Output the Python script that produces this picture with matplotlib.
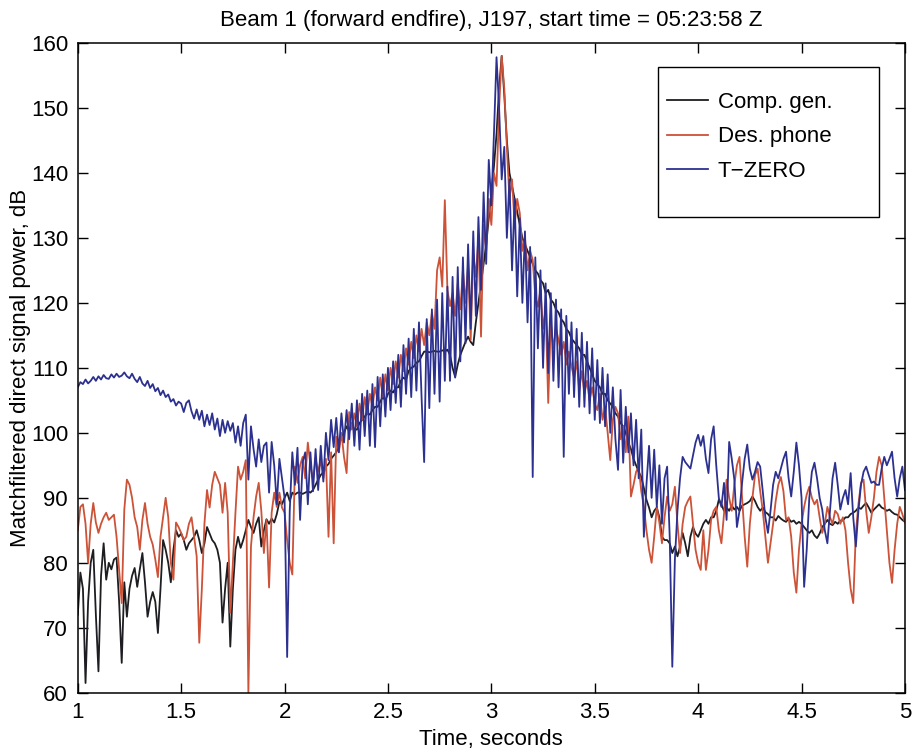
import numpy as np
import matplotlib
matplotlib.use("Agg")
import matplotlib.pyplot as plt
from matplotlib.patches import Rectangle
from matplotlib.ticker import FormatStrFormatter

# samples every 12.5 ms from 1 s to 5 s, one row per quarter second
dt = 0.0125
t0 = 1.0

comp_gen = [
    72.0, 78.5, 76.0, 61.5, 74.0, 80.0, 82.0, 72.0, 63.3, 78.0, 83.0, 77.4, 80.0, 79.0, 80.5, 80.8, 74.0, 64.6, 77.0, 71.7,
    76.0, 78.0, 79.2, 76.3, 79.0, 81.5, 77.0, 71.7, 74.0, 75.5, 74.0, 69.2, 76.0, 83.5, 82.0, 80.0, 77.0, 82.0, 85.0, 84.0,
    84.5, 83.5, 82.0, 83.0, 83.5, 84.0, 85.0, 83.5, 81.5, 83.0, 85.5, 84.5, 83.5, 83.0, 82.0, 80.0, 70.8, 76.0, 80.0, 67.1,
    76.0, 82.0, 84.0, 82.3, 83.5, 85.0, 86.6, 85.5, 84.6, 86.0, 87.0, 82.5, 85.0, 86.7, 86.0, 86.8, 86.2, 87.5, 89.4, 89.0,
    90.0, 90.8, 89.5, 90.8, 90.5, 90.8, 90.8, 90.6, 90.8, 91.0, 90.8, 91.2, 92.0, 92.8, 93.5, 94.0, 94.8, 95.2, 96.0, 96.5,
    97.0, 98.0, 99.5, 100.0, 101.0, 100.2, 101.5, 100.5, 100.5, 101.5, 102.0, 102.5, 103.0, 102.8, 103.5, 104.0, 104.0, 104.8, 105.5, 105.0,
    106.0, 106.5, 106.2, 107.0, 107.0, 108.0, 108.5, 108.2, 109.5, 110.0, 110.2, 110.8, 111.0, 111.8, 112.5, 112.5, 112.4, 112.5, 112.6, 112.5,
    112.5, 112.7, 112.5, 112.8, 112.0, 110.0, 108.6, 110.5, 112.0, 113.0, 114.0, 114.8, 114.0, 113.5, 117.0, 120.0, 123.0, 126.0, 129.0, 133.0,
    137.0, 141.0, 146.0, 153.0, 158.0, 152.0, 145.0, 140.0, 138.0, 136.0, 134.0, 132.0, 130.0, 129.0, 128.0, 127.0, 126.0, 125.0, 124.5, 123.5,
    123.0, 121.5, 122.0, 120.5, 120.0, 119.0, 118.5, 117.5, 117.0, 116.0, 115.5, 114.5, 114.0, 113.5, 113.0, 112.0, 112.0, 111.0, 110.0, 109.0,
    108.0, 107.5, 107.0, 106.0, 106.0, 105.0, 104.5, 104.0, 103.0, 102.5, 101.5, 101.0, 100.0, 98.5, 97.5, 96.0, 95.0, 94.0, 93.2, 91.5,
    89.7, 88.5, 87.0, 88.0, 88.5, 87.0, 84.0, 83.5, 83.5, 83.0, 81.5, 82.5, 81.0, 82.5, 84.6, 83.0, 81.0, 84.0, 85.5, 84.5,
    84.0, 85.0, 86.0, 86.6, 86.0, 87.0, 87.0, 88.0, 89.7, 89.0, 88.0, 88.5, 88.0, 88.8, 88.2, 88.6, 88.0, 88.8, 89.0, 89.2,
    89.5, 90.2, 89.5, 88.6, 88.0, 88.5, 87.8, 87.5, 87.0, 87.0, 86.5, 87.2, 86.8, 86.5, 86.3, 86.8, 86.3, 86.5, 86.0, 86.3,
    86.0, 85.5, 85.0, 84.6, 85.0, 84.2, 83.8, 84.5, 85.5, 86.0, 86.6, 86.0, 85.8, 86.3, 86.0, 86.5, 86.5, 87.0, 87.0, 87.5,
    87.7, 88.0, 88.5, 88.3, 88.8, 89.2, 88.5, 87.7, 88.2, 88.6, 89.0, 88.5, 88.3, 88.0, 88.2, 87.8, 87.5, 87.4, 87.0, 86.6,
    86.3,
]

des_phone = [
    85.0, 88.6, 89.0, 86.0, 80.0, 86.0, 89.2, 86.2, 84.6, 86.0, 87.0, 87.7, 86.6, 87.0, 87.4, 84.0, 79.0, 73.8, 88.2, 92.8,
    92.0, 90.0, 87.0, 85.5, 82.0, 86.6, 89.2, 86.0, 84.0, 82.8, 80.5, 77.8, 84.0, 87.0, 90.0, 87.0, 80.0, 77.4, 86.2, 85.5,
    84.6, 83.5, 84.0, 86.0, 87.0, 84.0, 81.0, 67.7, 76.0, 86.0, 91.2, 88.5, 92.0, 94.0, 93.0, 92.0, 87.7, 92.3, 87.7, 72.3,
    80.0, 87.7, 94.8, 92.8, 94.0, 95.8, 60.0, 82.5, 87.0, 90.2, 92.3, 88.0, 81.5, 86.6, 76.2, 87.7, 90.8, 88.6, 90.8, 88.5,
    87.7, 83.5, 80.0, 78.2, 94.8, 92.3, 95.0, 96.3, 93.0, 98.5, 95.0, 92.8, 96.0, 94.0, 95.8, 93.0, 96.0, 84.0, 97.0, 83.0,
    99.4, 97.0, 100.0, 96.3, 93.8, 103.2, 100.5, 103.0, 101.0, 104.5, 102.0, 105.5, 103.0, 106.0, 104.0, 107.0, 105.0, 108.5, 105.5, 109.0,
    106.5, 110.0, 107.5, 111.0, 108.5, 112.0, 109.5, 113.0, 110.5, 114.0, 111.5, 115.0, 112.5, 116.0, 113.5, 117.0, 115.0, 118.5, 116.0, 125.0,
    127.0, 122.5, 135.8, 122.0, 119.5, 121.5, 118.0, 123.0, 119.0, 125.0, 120.0, 126.0, 114.3, 127.5, 124.0, 130.0, 114.8, 132.0, 128.0, 136.0,
    132.0, 140.0, 138.0, 150.0, 158.0, 153.0, 144.0, 136.0, 139.0, 132.0, 136.0, 133.8, 128.0, 130.0, 125.0, 128.0, 126.6, 121.0, 119.4, 122.0,
    116.0, 119.0, 104.6, 117.0, 113.0, 116.0, 114.3, 112.0, 114.0, 110.5, 112.5, 110.2, 108.5, 111.0, 106.6, 109.5, 106.0, 108.0, 105.0, 107.0,
    104.5, 103.5, 106.0, 102.0, 104.0, 100.0, 95.8, 102.0, 104.0, 103.0, 99.0, 101.0, 97.0, 102.5, 90.2, 92.0, 94.0, 94.8, 91.0, 88.6,
    85.0, 82.0, 80.0, 84.0, 88.6, 86.2, 83.0, 87.0, 90.2, 88.0, 89.0, 91.7, 86.0, 81.5, 86.0, 88.6, 89.5, 90.2, 86.0, 82.0,
    80.0, 78.9, 85.0, 78.9, 82.0, 86.6, 88.0, 88.6, 85.0, 83.0, 87.5, 92.8, 90.0, 88.0, 92.0, 95.0, 96.3, 90.0, 84.0, 79.4,
    86.0, 90.0, 93.5, 94.5, 91.0, 88.0, 84.0, 80.0, 83.0, 86.0, 89.5, 92.0, 93.2, 91.0, 86.6, 87.0, 84.0, 78.5, 75.4, 82.0,
    86.0, 88.6, 90.5, 91.7, 90.0, 89.0, 89.7, 87.0, 84.6, 86.0, 88.6, 87.0, 86.0, 88.0, 87.5, 86.0, 87.0, 85.0, 80.0, 76.0,
    73.8, 84.6, 89.0, 92.3, 92.8, 88.0, 84.6, 87.0, 90.0, 94.0, 96.3, 95.0, 90.0, 85.0, 80.0, 76.9, 82.0, 86.0, 88.6, 87.5,
    86.2,
]

t_zero = [
    107.0, 107.8, 107.5, 108.2, 107.6, 108.0, 108.6, 108.0, 108.7, 108.2, 108.9, 108.4, 108.3, 109.0, 108.5, 109.1, 108.6, 108.8, 109.3, 108.7,
    108.4, 109.1, 108.3, 107.8, 108.6, 107.6, 107.2, 108.0, 106.9, 107.5, 106.4, 106.9, 105.8, 106.5, 105.5, 105.9, 104.8, 105.2, 104.2, 104.8,
    104.5, 103.2, 104.6, 105.0, 103.3, 102.2, 103.6, 102.0, 103.4, 101.0, 102.8, 101.2, 103.0, 100.5, 102.2, 99.5, 102.0, 100.0, 101.8, 100.3,
    101.5, 98.5, 101.0, 98.0, 101.5, 102.8, 92.8, 101.0, 97.5, 94.8, 99.0, 95.5, 98.0, 98.5, 90.8, 98.6, 95.0, 89.0, 96.0, 93.0,
    90.0, 65.5, 88.0, 97.0, 92.0, 97.7, 86.6, 95.5, 97.0, 89.0, 97.0, 91.0, 97.5, 91.2, 98.0, 92.5, 100.0, 95.8, 102.0, 97.8,
    102.3, 97.0, 103.0, 98.5, 103.5, 99.0, 104.5, 98.0, 105.0, 97.4, 106.0, 99.5, 106.5, 98.0, 107.5, 97.8, 108.6, 101.0, 109.0, 102.5,
    110.0, 103.5, 111.0, 104.6, 112.0, 104.0, 113.5, 106.0, 114.5, 105.5, 116.0, 106.5, 117.0, 105.5, 95.5, 117.5, 103.8, 119.0, 106.0, 120.5,
    104.8, 121.5, 108.0, 122.5, 108.0, 124.0, 108.5, 125.5, 111.0, 127.0, 113.8, 129.0, 116.0, 131.0, 118.0, 133.2, 122.0, 137.0, 126.0, 142.0,
    135.0, 146.0, 157.8, 150.0, 139.0, 144.0, 130.0, 139.0, 125.0, 136.0, 121.0, 133.0, 120.0, 131.0, 117.0, 128.6, 93.2, 127.0, 113.0, 125.0,
    110.0, 123.0, 109.2, 121.5, 108.0, 120.5, 107.0, 119.0, 96.3, 118.0, 106.0, 117.0, 105.5, 116.0, 104.0, 115.4, 104.0, 114.0, 103.0, 113.0,
    102.0, 111.2, 101.5, 110.0, 101.0, 109.0, 100.0, 107.0, 99.0, 94.3, 106.6, 95.4, 104.0, 97.0, 103.0, 95.0, 102.0, 93.0, 100.5, 84.0,
    92.0, 98.0, 90.0, 97.4, 88.6, 95.0, 86.0, 93.0, 94.8, 84.0, 64.0, 80.5, 88.0, 93.0, 96.3, 95.5, 95.0, 94.5, 96.5, 98.5,
    99.7, 98.0, 99.5, 96.0, 93.8, 99.0, 101.0, 95.0, 90.0, 88.6, 92.3, 86.6, 98.6, 96.0, 92.8, 85.5, 88.0, 92.3, 96.0, 98.2,
    94.5, 92.8, 94.0, 95.5, 94.8, 91.0, 87.0, 84.6, 88.0, 92.0, 94.0, 93.0, 94.5, 96.0, 97.1, 93.0, 90.2, 94.0, 98.5, 95.0,
    90.0, 76.3, 82.0, 90.0, 94.0, 95.4, 93.0, 90.0, 88.2, 85.0, 83.0, 88.0, 93.0, 95.4, 92.0, 88.2, 90.0, 91.2, 89.0, 93.8,
    87.0, 82.5, 88.0, 92.0, 94.0, 94.8, 93.5, 92.3, 92.5, 92.0, 92.0, 94.5, 96.3, 95.0, 96.0, 97.1, 93.0, 90.2, 93.0, 94.8,
    91.2,
]

series = [
    ("Comp. gen.", comp_gen, "#1e1e22"),
    ("Des. phone", des_phone, "#cc5238"),
    ("T\u2212ZERO", t_zero, "#2c3190"),
]

plt.rcParams["font.family"] = ["Liberation Sans", "DejaVu Sans"]

fig = plt.figure(figsize=(9.15, 7.53), dpi=100)
ax = fig.add_axes([0.085, 0.080, 0.904, 0.863])

for label, vals, color in series:
    t = t0 + dt * np.arange(len(vals))
    ax.plot(t, vals, color=color, lw=1.3, label=label)

ax.set_xlim(1, 5)
ax.set_ylim(60, 160)
ax.set_xticks(np.arange(1, 5.01, 0.5))
ax.set_yticks(np.arange(60, 161, 10))
ax.xaxis.set_major_formatter(FormatStrFormatter("%g"))
ax.tick_params(direction="in", length=7, width=1, top=True, right=True,
               labelsize=16)
ax.tick_params(axis="y", pad=7)
ax.tick_params(axis="x", pad=7)
for s in ax.spines.values():
    s.set_linewidth(1.1)

ax.set_xlabel("Time, seconds", fontsize=16, labelpad=4)
ax.set_ylabel("Matchfiltered direct signal power, dB", fontsize=16, labelpad=0)
ax.set_title("Beam 1 (forward endfire), J197, start time = 05:23:58 Z",
             fontsize=16, pad=12)

# legend box is wider than its entries, so the frame is drawn separately
ax.add_patch(Rectangle((0.701, 0.7323), 0.2676, 0.2307, transform=ax.transAxes,
                       facecolor="white", edgecolor="black", lw=1.0, zorder=4))
leg = ax.legend(loc="upper left", bbox_to_anchor=(0.712, 0.925),
                borderaxespad=0, borderpad=0, frameon=False, fontsize=16,
                handlelength=1.85, labelspacing=0.62, handletextpad=0.45)
leg.set_zorder(5)

fig.savefig("out.png", dpi=100)
